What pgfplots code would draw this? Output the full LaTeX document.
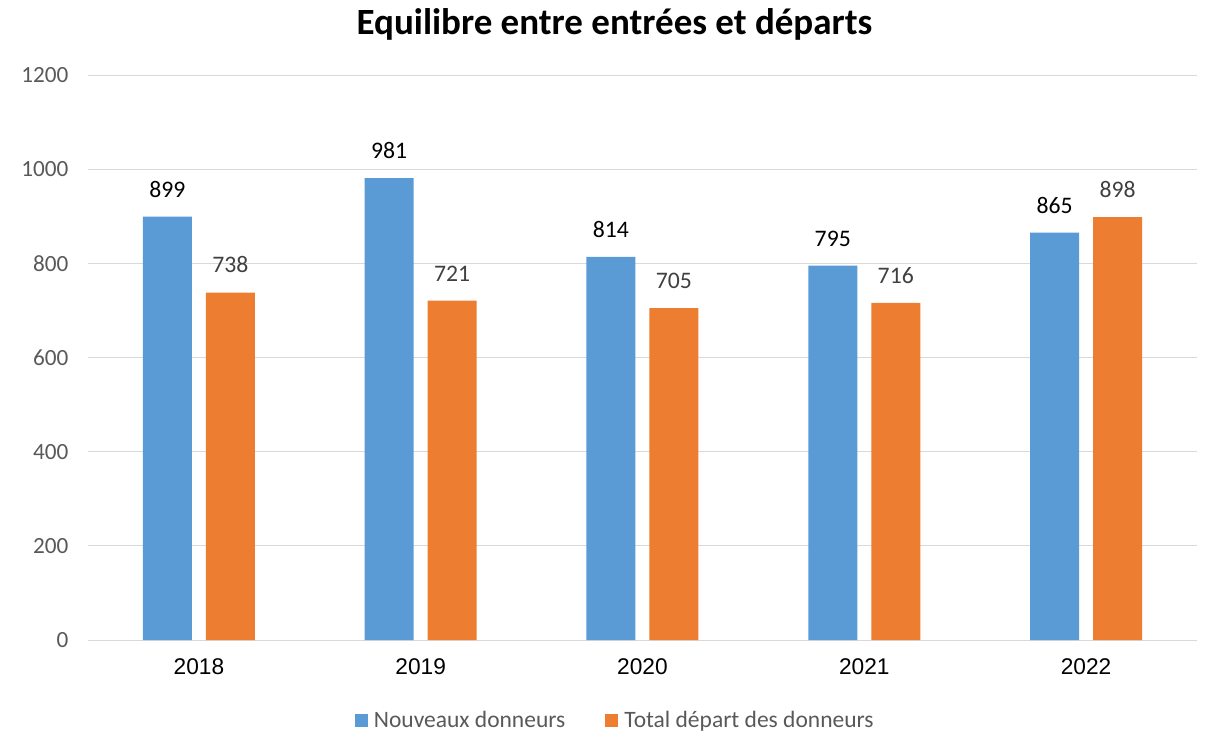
\documentclass[border=0pt]{standalone}
\usepackage{pgfplots}
\pgfplotsset{compat=1.18}
\usepackage{fontspec}
\setmainfont{Carlito}
\newfontfamily\arial{Liberation Sans}
\definecolor{cblue}{HTML}{5B9BD5}
\definecolor{corange}{HTML}{ED7D31}
\definecolor{cgrid}{HTML}{D9D9D9}
\definecolor{ctick}{HTML}{595959}
\definecolor{clab}{HTML}{404040}
\begin{document}
\begin{tikzpicture}
\path[use as bounding box] (0pt,0pt) rectangle (1205pt,-732pt);
\node[anchor=base,font=\fontsize{37}{42}\selectfont\bfseries] at (614.5pt,-34pt) {Equilibre entre entrées et départs};
\begin{axis}[
  at={(88pt,-640pt)}, anchor=south west,
  scale only axis, width=1109pt, height=565pt,
  xmin=-0.5, xmax=4.5, ymin=0, ymax=1200,
  ytick={0,200,...,1200},
  xtick=data, xticklabels={{\arial 2018},{\arial 2019},{\arial 2020},{\arial 2021},{\arial 2022}},
  /pgf/number format/assume math mode=true,
  /pgf/number format/1000 sep={},
  axis line style={draw=none},
  major tick length=0pt,
  ymajorgrids, grid style={cgrid, line width=1pt},
  yticklabel style={font=\fontsize{23.2}{27}\selectfont, text=ctick, xshift=-16pt},
  xticklabel style={font=\fontsize{22.7}{27}\selectfont, text=black, yshift=-15pt},
  ybar, bar width=49pt,
  nodes near coords,
  nodes near coords style={font=\fontsize{23.7}{28}\selectfont, anchor=south, yshift=16pt},
  legend columns=2,
  legend style={draw=none, fill=none, at={(0.4755,-0.1425)}, anchor=center,
    font=\fontsize{23.5}{27}\selectfont, text=ctick,
    /tikz/every even column/.append style={column sep=38pt}},
  legend image code/.code={\fill[#1,draw=none] (0pt,-6.5pt) rectangle (13pt,6.5pt); \path (17pt,0pt);},
]
\addplot[fill=cblue, draw=none, bar shift=-31.5pt, nodes near coords style={text=black}] coordinates {(0,899) (1,981) (2,814) (3,795) (4,865)};
\addplot[fill=corange, draw=none, bar shift=31.5pt, nodes near coords style={text=clab}] coordinates {(0,738) (1,721) (2,705) (3,716) (4,898)};
\legend{Nouveaux donneurs, Total départ des donneurs}
\end{axis}
\end{tikzpicture}
\end{document}
